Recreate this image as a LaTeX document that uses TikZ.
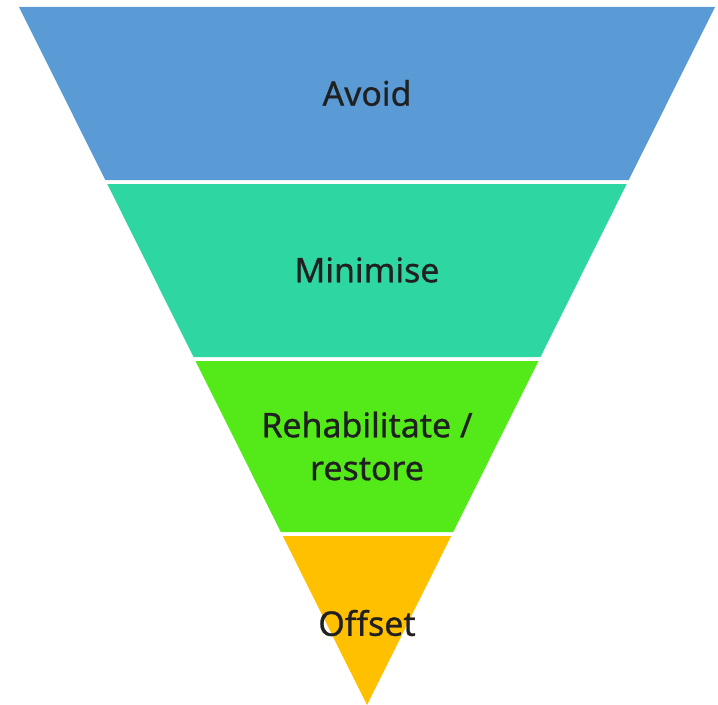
\documentclass[tikz,border=0pt]{standalone}
\usepackage{fontspec}
\setmainfont{Noto Sans}[FakeBold=0.8]
\definecolor{bandA}{HTML}{5B9BD5}
\definecolor{bandB}{HTML}{2ED6A2}
\definecolor{bandC}{HTML}{54EA1A}
\definecolor{bandD}{HTML}{FFC000}
\definecolor{txt}{HTML}{202020}
\begin{document}
\begin{tikzpicture}[x=1bp,y=-1bp,
  lbl/.style={text=txt,font=\fontsize{34}{43}\selectfont,align=center,inner sep=0pt}]
\useasboundingbox (0,0) rectangle (718,705);
\fill[bandA] (19,7) -- (715,7) -- (628.7,180) -- (105.3,180) -- cycle;
\fill[bandB] (107.3,184) -- (626.7,184) -- (540.5,357) -- (193.5,357) -- cycle;
\fill[bandC] (195.5,361) -- (538.5,361) -- (453.2,532) -- (280.8,532) -- cycle;
\fill[bandD] (282.8,536) -- (451.2,536) -- (367,705) -- cycle;
\node[lbl] (avoid) at (367,93) {Avoid};
\node[lbl] (min) at (367,270) {Minimise};
\node[lbl] (reh) at (367,446) {Rehabilitate /\\restore};
\node[lbl] (off) at (367,623) {Offset};
\end{tikzpicture}
\end{document}
